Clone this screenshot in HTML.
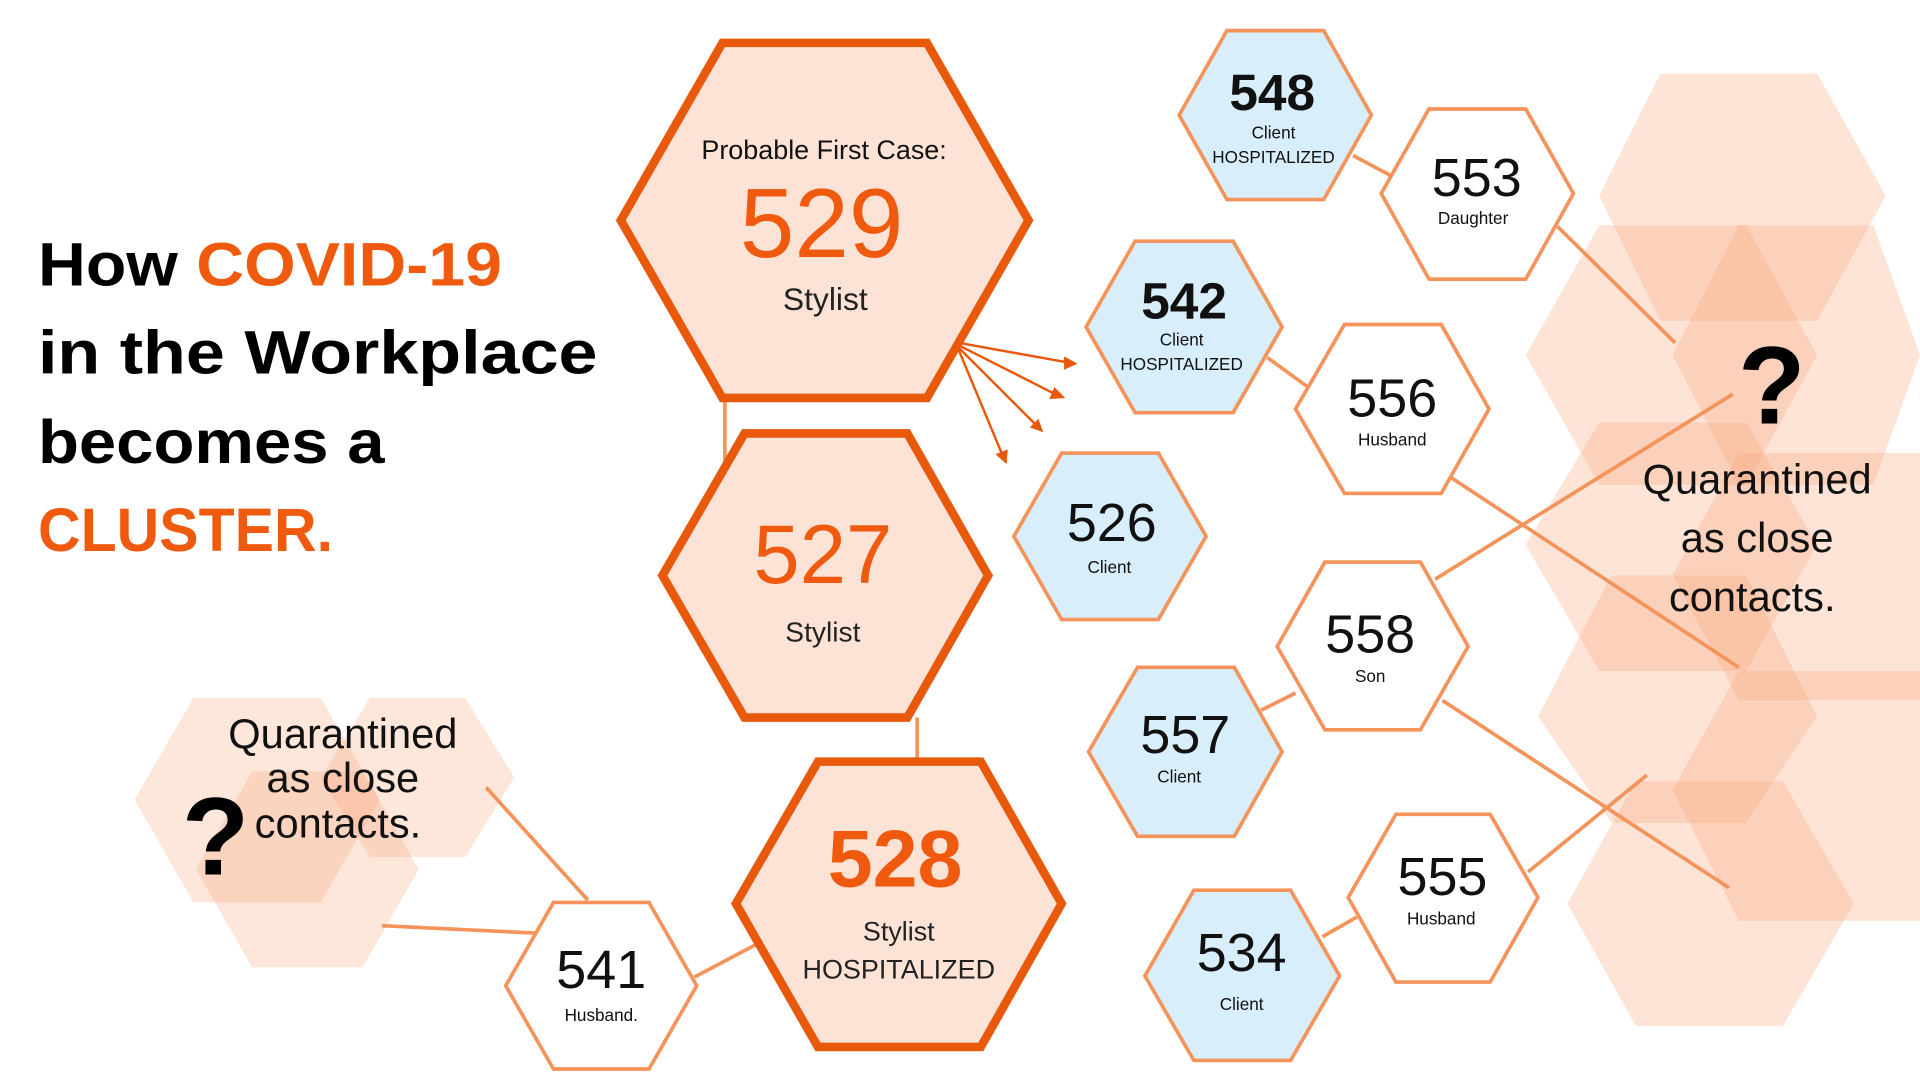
<!DOCTYPE html>
<html><head><meta charset="utf-8"><style>html,body{margin:0;padding:0;background:#fff;width:1920px;height:1080px;overflow:hidden}svg{display:block}</style></head><body>
<svg width="1920" height="1080" viewBox="0 0 1568 882" preserveAspectRatio="none" xmlns="http://www.w3.org/2000/svg" font-family="'Liberation Sans', sans-serif">
<!-- background hexes right -->
<g fill="#f8a679" fill-opacity="0.3">
<polygon points="1306,160 1356,60 1484,60 1540,160 1484,262 1356,262"/>
<polygon points="1246,290 1306,184 1426,184 1484,290 1426,396 1306,396"/>
<polygon points="1366,290 1420,184 1530,184 1568,290 1530,396 1420,396"/>
<polygon points="1246,445 1306,345 1426,345 1484,445 1426,548 1306,548"/>
<polygon points="1366,470 1420,370 1568,370 1568,572 1420,572"/>
<polygon points="1256,585 1316,470 1426,470 1484,585 1426,672 1316,672"/>
<polygon points="1366,645 1420,548 1568,548 1568,752 1420,752"/>
<polygon points="1280,738 1336,638 1456,638 1514,738 1456,838 1336,838"/>
</g>
<!-- background hexes left -->
<g fill="#f8a679" fill-opacity="0.28">
<polygon points="110,653 158,570 262,570 310,653 262,737 158,737"/>
<polygon points="262,635 302,570 380,570 420,635 380,700 302,700"/>
<polygon points="160,710 206,630 296,630 342,710 296,790 206,790"/>
</g>
<!-- connector lines -->
<g stroke="#f4935a" stroke-width="3" fill="none">
<line x1="592" y1="325" x2="592" y2="378"/>
<line x1="749" y1="586" x2="749" y2="625"/>
<line x1="567" y1="798" x2="620" y2="770"/>
<line x1="1105" y1="127" x2="1135" y2="143"/>
<line x1="1035" y1="292" x2="1068" y2="316"/>
<line x1="1030" y1="580" x2="1058" y2="566"/>
<line x1="1080" y1="765" x2="1108" y2="749"/>
<line x1="1272" y1="185" x2="1368" y2="280"/>
<line x1="1185" y1="390" x2="1420" y2="545"/>
<line x1="1172" y1="473" x2="1415" y2="322"/>
<line x1="1178" y1="572" x2="1412" y2="725"/>
<line x1="1248" y1="712" x2="1345" y2="633"/>
<line x1="480" y1="735" x2="397" y2="643"/>
<line x1="437" y1="762" x2="312" y2="756"/>
</g>
<g stroke="#e8590c" stroke-width="2" fill="#e8590c">
<line x1="783" y1="280" x2="872" y2="296"/><polygon points="880,297 869,291 869,302" stroke="none"/>
<line x1="783" y1="282" x2="862" y2="322"/><polygon points="870,325 861,316 857,326" stroke="none"/>
<line x1="783" y1="284" x2="846" y2="347"/><polygon points="852,353 848,342 841,349" stroke="none"/>
<line x1="783" y1="286" x2="818" y2="370"/><polygon points="822,379 823,367 813,371" stroke="none"/>
</g>
<!-- main hexes -->
<g fill="#fde3d6" stroke="#e8590c" stroke-width="7" stroke-linejoin="miter">
<polygon points="507,180 590,35 757,35 840,180 757,325 590,325"/>
<polygon points="541,470 608,354 741,354 807,470 741,586 608,586"/>
<polygon points="601,738 668,622 801,622 867,738 801,855 668,855"/>
</g>
<!-- small hexes -->
<g stroke="#f4935a" stroke-width="3">
<polygon fill="#d8eefa" points="828,438 867,370 946,370 985,438 946,506 867,506"/>
<polygon fill="#d8eefa" points="887,267 927,197 1007,197 1047,267 1007,337 927,337"/>
<polygon fill="#d8eefa" points="963,94 1002,25 1081,25 1120,94 1081,163 1002,163"/>
<polygon fill="#fff" points="1128,158 1167,89 1246,89 1285,158 1246,228 1167,228"/>
<polygon fill="#fff" points="1058,334 1098,265 1177,265 1216,334 1177,403 1098,403"/>
<polygon fill="#fff" points="1043,528 1082,459 1160,459 1199,528 1160,596 1082,596"/>
<polygon fill="#d8eefa" points="889,614 929,545 1008,545 1047,614 1008,683 929,683"/>
<polygon fill="#fff" points="1101,733 1140,665 1217,665 1256,733 1217,802 1140,802"/>
<polygon fill="#d8eefa" points="935,797 975,727 1054,727 1094,797 1054,866 975,866"/>
<polygon fill="#fff" points="413,805 452,737 530,737 569,805 530,873 452,873"/>
</g>
<!-- title -->
<g font-weight="bold" font-size="50">
<text x="31" y="233" fill="#000" textLength="379" lengthAdjust="spacingAndGlyphs">How <tspan fill="#f05a0f">COVID-19</tspan></text>
<text x="31" y="305" fill="#000" textLength="457" lengthAdjust="spacingAndGlyphs">in the Workplace</text>
<text x="31" y="378" fill="#000" textLength="283" lengthAdjust="spacingAndGlyphs">becomes a</text>
<text x="31" y="450" fill="#f05a0f" textLength="241" lengthAdjust="spacingAndGlyphs">CLUSTER.</text>
</g>
<!-- main texts -->
<g text-anchor="middle">
<text x="673" y="130" font-size="22" fill="#111">Probable First Case:</text>
<text x="671" y="210" font-size="80" fill="#f05a0f">529</text>
<text x="674" y="253" font-size="26" fill="#222">Stylist</text>
<text x="672" y="476" font-size="68" fill="#f05a0f">527</text>
<text x="672" y="524" font-size="23" fill="#222">Stylist</text>
<text x="731" y="724" font-size="66" font-weight="bold" fill="#f05a0f">528</text>
<text x="734" y="768" font-size="22" fill="#222">Stylist</text>
<text x="734" y="799" font-size="22" fill="#222">HOSPITALIZED</text>
<g fill="#111">
<text x="908" y="442" font-size="44">526</text><text x="906" y="468" font-size="14">Client</text>
<text x="967" y="260" font-size="42" font-weight="bold">542</text><text x="965" y="282" font-size="14">Client</text><text x="965" y="302" font-size="14">HOSPITALIZED</text>
<text x="1039" y="90" font-size="42" font-weight="bold">548</text><text x="1040" y="113" font-size="14">Client</text><text x="1040" y="133" font-size="14">HOSPITALIZED</text>
<text x="1206" y="160" font-size="44">553</text><text x="1203" y="183" font-size="14">Daughter</text>
<text x="1137" y="340" font-size="44">556</text><text x="1137" y="364" font-size="14">Husband</text>
<text x="1119" y="533" font-size="44">558</text><text x="1119" y="557" font-size="14">Son</text>
<text x="968" y="615" font-size="44">557</text><text x="963" y="639" font-size="14">Client</text>
<text x="1178" y="731" font-size="44">555</text><text x="1177" y="755" font-size="14">Husband</text>
<text x="1014" y="793" font-size="44">534</text><text x="1014" y="825" font-size="14">Client</text>
<text x="491" y="807" font-size="44">541</text><text x="491" y="834" font-size="14">Husband.</text>
</g>
<text x="1435" y="403" font-size="34" fill="#111">Quarantined</text>
<text x="1435" y="451" font-size="34" fill="#111">as close</text>
<text x="1431" y="499" font-size="34" fill="#111">contacts.</text>
<text x="1447" y="346" font-size="90" font-weight="bold" fill="#000">?</text>
<text x="280" y="611" font-size="34" fill="#111">Quarantined</text>
<text x="280" y="647" font-size="34" fill="#111">as close</text>
<text x="276" y="684" font-size="34" fill="#111">contacts.</text>
<text x="176" y="714" font-size="90" font-weight="bold" fill="#000">?</text>
</g>
</svg>
</body></html>
